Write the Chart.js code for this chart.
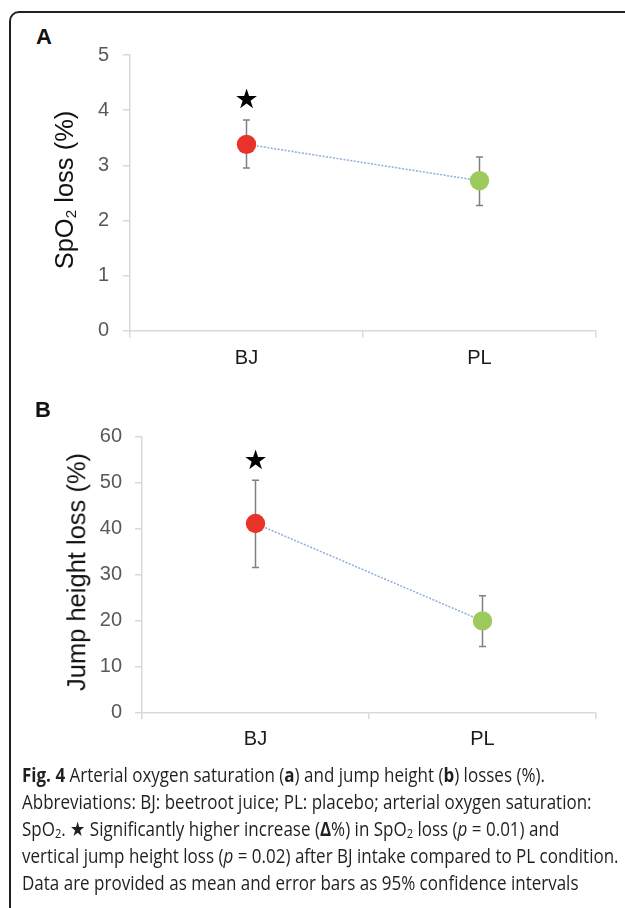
<!DOCTYPE html>
<html>
<head>
<meta charset="utf-8">
<script src="https://cdn.jsdelivr.net/npm/chart.js@4.4.0/dist/chart.umd.min.js"></script>
<style>
  html, body { margin: 0; padding: 0; background: #fff; }
  body { width: 625px; height: 908px; position: relative; overflow: hidden; font-family: "Liberation Sans", Arial, sans-serif; }
  #frame { position: absolute; left: 9px; top: 11px; width: 700px; height: 1000px; border: 2px solid #231f20; border-top-left-radius: 10px; }
  .panel { position: absolute; left: 0; width: 625px; }
  .panel canvas { display: block; }
  .letter { position: absolute; font-weight: bold; font-size: 22px; line-height: 1; color: #111; }
  .ytitle { position: absolute; font-size: 25.5px; line-height: 1; color: #111; white-space: nowrap; transform: translate(-50%, -50%) rotate(-90deg); }
  .ytitle sub { font-size: 0.6em; vertical-align: -0.2em; line-height: 0; }
  .cap { position: absolute; left: 22px; font-family: "Open Sans", sans-serif; font-size: 20px; line-height: 1; color: #231f20; white-space: nowrap; transform: scaleX(0.85); transform-origin: left top; }
  .cap sub { font-size: 0.65em; vertical-align: -0.15em; line-height: 0; }
</style>
</head>
<body>
<div id="frame"></div>

<div class="letter" style="left:36px; top:26px;">A</div>
<div class="panel" style="top:0; height:380px;"><canvas id="chartA" width="625" height="380"></canvas></div>
<div class="ytitle" style="left:65px; top:190px;">SpO<sub>2</sub> loss (%)</div>

<div class="letter" style="left:35px; top:399px;">B</div>
<div class="panel" style="top:380px; height:400px;"><canvas id="chartB" width="625" height="400"></canvas></div>
<div class="ytitle" style="left:77px; top:572px;">Jump height loss (%)</div>

<div class="cap" style="top:765px;"><b>Fig. 4</b> Arterial oxygen saturation (<b>a</b>) and jump height (<b>b</b>) losses (%).</div>
<div class="cap" style="top:792px;">Abbreviations: BJ: beetroot juice; PL: placebo; arterial oxygen saturation:</div>
<div class="cap" style="top:819px;">SpO<sub>2</sub>. ★ Significantly higher increase (<b>Δ</b>%) in SpO<sub>2</sub> loss (<i>p</i> = 0.01) and</div>
<div class="cap" style="top:846px;">vertical jump height loss (<i>p</i> = 0.02) after BJ intake compared to PL condition.</div>
<div class="cap" style="top:873px;">Data are provided as mean and error bars as 95% confidence intervals</div>

<script>
// data
const categories = ['BJ', 'PL'];
const pointColors = ['#e8322a', '#9dca5c'];

const spo2Mean = [3.38, 2.72];
const spo2Lower = [2.95, 2.27];
const spo2Upper = [3.82, 3.15];
const spo2Star = [4.17, null];
const spo2Ticks = [0, 1, 2, 3, 4, 5];

const jumpMean = [41.1, 19.9];
const jumpLower = [31.5, 14.3];
const jumpUpper = [50.5, 25.4];
const jumpStar = [54.5, null];
const jumpTicks = [0, 10, 20, 30, 40, 50, 60];

// error bars under the points, star over them
function errorBars(lower, upper, star) {
    return {
        id: 'errorBars',
        beforeDatasetsDraw(chart) {
            const ctx = chart.ctx;
            const x = chart.scales.x, y = chart.scales.y;
            ctx.save();
            ctx.strokeStyle = '#808080';
            ctx.lineWidth = 1.5;
            lower.forEach((lo, i) => {
                const px = x.getPixelForValue(i);
                const top = y.getPixelForValue(upper[i]);
                const bot = y.getPixelForValue(lo);
                ctx.beginPath();
                ctx.moveTo(px, top); ctx.lineTo(px, bot);
                ctx.moveTo(px - 3.5, top); ctx.lineTo(px + 3.5, top);
                ctx.moveTo(px - 3.5, bot); ctx.lineTo(px + 3.5, bot);
                ctx.stroke();
            });
            ctx.restore();
        },
        afterDatasetsDraw(chart) {
            const ctx = chart.ctx;
            const x = chart.scales.x, y = chart.scales.y;
            ctx.save();
            ctx.fillStyle = '#000';
            ctx.font = '27px "DejaVu Sans"';
            ctx.textAlign = 'center';
            ctx.textBaseline = 'middle';
            star.forEach((v, i) => {
                if (v === null) return;
                ctx.fillText('★', x.getPixelForValue(i), y.getPixelForValue(v));
            });
            ctx.restore();
        }
    };
}

function makeChart(id, values, lower, upper, star, ticks, axisWidth, pad, labelPad, tickPad) {
    const ctx = document.getElementById(id).getContext('2d');
    return new Chart(ctx, {
        type: 'line',
        data: {
            labels: categories,
            datasets: [{
                data: values,
                borderColor: '#8eaedc',
                borderWidth: 1.5,
                borderDash: [2, 1.5],
                pointBackgroundColor: pointColors,
                pointBorderWidth: 0,
                pointRadius: 9.7,
                pointHoverRadius: 9.7,
                tension: 0
            }]
        },
        options: {
            responsive: false,
            animation: false,
            events: [],
            layout: { padding: pad },
            plugins: {
                legend: { display: false },
                tooltip: { enabled: false },
                title: { display: false }
            },
            scales: {
                x: {
                    type: 'category',
                    offset: true,
                    grid: { offset: true, drawOnChartArea: false, tickLength: 7, color: '#d9d9d9', lineWidth: 1.5 },
                    border: { color: '#d9d9d9', width: 1.5 },
                    ticks: { color: '#1a1a1a', font: { family: '"Liberation Sans", Arial', size: 20 }, padding: labelPad, maxRotation: 0 },
                    afterFit: s => { s.height = 45; }
                },
                y: {
                    min: ticks[0],
                    max: ticks[ticks.length - 1],
                    grid: { drawOnChartArea: false, tickLength: 7, color: '#d9d9d9', lineWidth: 1.5 },
                    border: { color: '#d9d9d9', width: 1.5 },
                    ticks: { color: '#595959', font: { family: '"Liberation Sans", Arial', size: 20 }, padding: tickPad },
                    afterBuildTicks: s => { s.ticks = ticks.map(v => ({ value: v })); },
                    afterFit: s => { s.width = axisWidth; }
                }
            }
        },
        plugins: [errorBars(lower, upper, star)]
    });
}

document.addEventListener('DOMContentLoaded', function() {
    makeChart('chartA', spo2Mean, spo2Lower, spo2Upper, spo2Star, spo2Ticks, 130,
        { left: 0, right: 29, top: 55, bottom: 4.3 }, 9, 14);
    makeChart('chartB', jumpMean, jumpLower, jumpUpper, jumpStar, jumpTicks, 142,
        { left: 0, right: 29, top: 56.7, bottom: 22.7 }, 8, 13);
});
</script>
</body>
</html>
